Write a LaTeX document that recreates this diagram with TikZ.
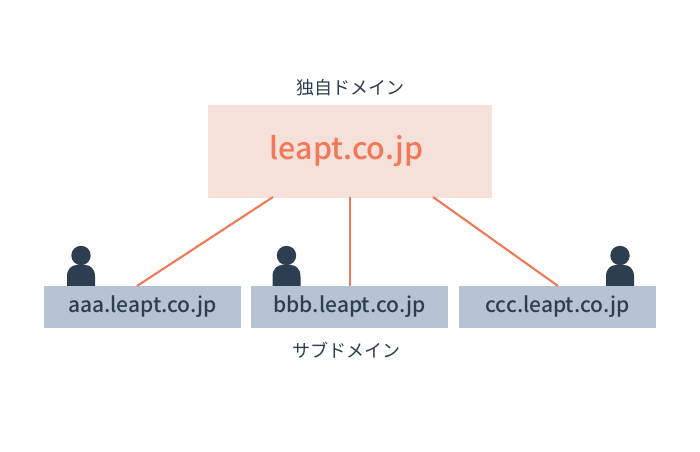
\documentclass[tikz,border=0pt]{standalone}
\usepackage{fontspec}
\setmainfont{Noto Sans CJK JP}[UprightFont=* Medium]
\newfontfamily\cjk{Noto Sans CJK JP}
\definecolor{ink}{HTML}{2C3E50}
\definecolor{coral}{HTML}{F27857}
\definecolor{peach}{HTML}{F5E1D9}
\definecolor{steel}{HTML}{B6C3D2}
\tikzset{x=1pt,y=-1pt,
 subbox/.style={fill=steel,minimum width=197pt,minimum height=41.6pt,inner sep=0,text=ink,font=\fontsize{21}{21}\selectfont},
 capt/.style={text=ink,font=\cjk\fontsize{18}{18}\selectfont,inner sep=0},
 link/.style={draw=coral,line width=2.1pt}}
\newcommand{\person}[2]{%
 \fill[ink] (#1,#2) circle (9.7);
 \fill[ink] (#1-14,#2+31) -- (#1-14,#2+21) .. controls (#1-14,#2+13) and (#1-9,#2+9.5) .. (#1-4,#2+9.5) -- (#1+4,#2+9.5) .. controls (#1+9,#2+9.5) and (#1+14,#2+13) .. (#1+14,#2+21) -- (#1+14,#2+31) -- cycle;}
\begin{document}
\begin{tikzpicture}
\useasboundingbox (0,0) rectangle (700,451);
\fill[white] (0,0) rectangle (700,451);
\node[fill=peach,minimum width=284pt,minimum height=92.6pt,inner sep=0,text=coral,font=\fontsize{30.3}{30.3}\selectfont] (main) at (350,151.4) {\hspace{-7pt}leapt.co.jp};
\node[capt] (t1) at (350,87.5) {独自ドメイン};
\person{81}{255.5}\person{286.5}{255.5}\person{620}{255.5}
\node[subbox] (a) at (142.5,306.8) {aaa.leapt.co.jp};
\node[subbox] (b) at (349.5,306.8) {bbb.leapt.co.jp};
\node[subbox] (c) at (557.5,306.8) {ccc.leapt.co.jp};
\node[capt] (t2) at (346,350) {サブドメイン};
\coordinate (m1) at (273,197);\coordinate (m2) at (350,197);\coordinate (m3) at (433,197);
\coordinate (a1) at (137,286);\coordinate (b1) at (350,286);\coordinate (c1) at (558,286);
\draw[link] (m1)--(a1);
\draw[link] (m2)--(b1);
\draw[link] (m3)--(c1);
\end{tikzpicture}
\end{document}
